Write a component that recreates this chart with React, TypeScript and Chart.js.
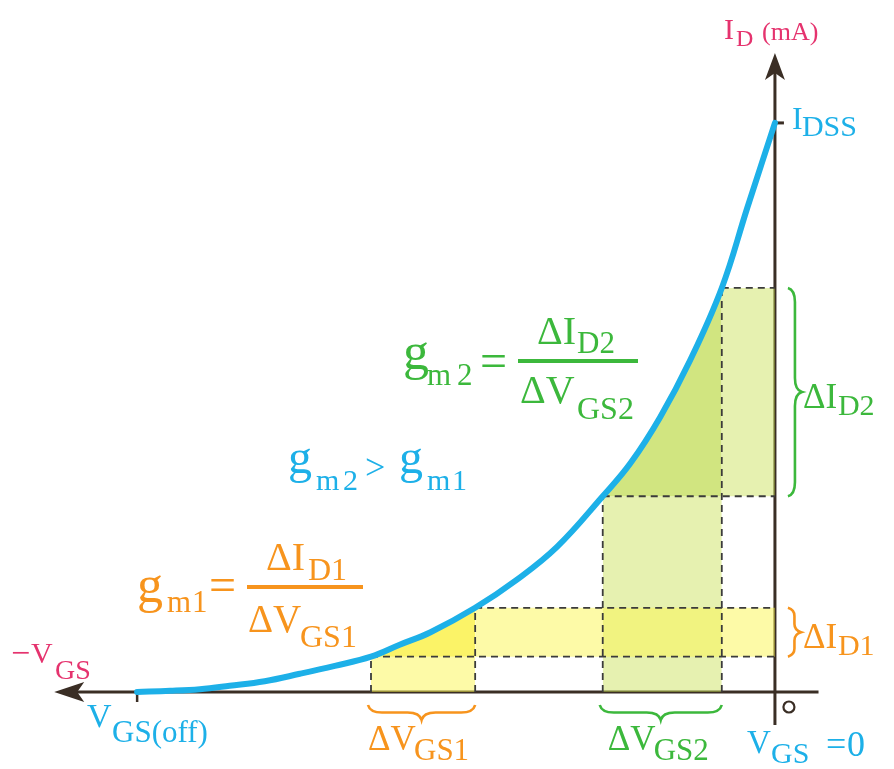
import React, { useEffect, useRef } from 'react';
import { Chart, registerables } from 'chart.js';

Chart.register(...registerables);

// ---- data (VGS in volts, ID in mA) ----
const VGS = [-6, -5.69, -5.41, -5.13, -4.8, -4.47, -4.14, -3.8, -3.53, -3.24, -2.82, -2.43, -2.05, -1.62, -1.36, -1.08, -0.8, -0.5, -0.26, 0];
const ID = [0, 0.02, 0.05, 0.11, 0.19, 0.32, 0.46, 0.62, 0.83, 1.05, 1.48, 1.97, 2.55, 3.44, 4.02, 4.83, 5.82, 7.1, 8.51, 10];
const VGS_OFF = -6;
const IDSS = 10;
const DVGS1 = [-3.8, -2.82];
const DID1 = [0.62, 1.48];
const DVGS2 = [-1.62, -0.5];
const DID2 = [3.44, 7.1];

// visible window of the diagram
const X_MIN = -7.29;
const X_MAX = 1.12;
const Y_MIN = -1.353;
const Y_MAX = 12.16;
// drawn axis extents
const X_AXIS = [-6.78, 0.41];
const Y_AXIS = [-0.58, 11.23];

const BLUE = '#1db0e8';
const MAGENTA = '#e5336e';
const ORANGE = '#f7941d';
const GREEN = '#3cb83c';
const DARK = '#3a2e25';
const FONT = "'Liberation Serif', 'Times New Roman', serif";

const Y_LIGHT = 'rgba(252,245,80,0.5)';
const Y_BRIGHT = 'rgba(250,240,60,0.78)';
const G_LIGHT = 'rgba(200,225,80,0.45)';
const G_MID = 'rgba(185,215,60,0.65)';
const TENSION = 0.4;

function txt(ctx: CanvasRenderingContext2D, s: string, x: number, y: number, size: number, color: string) {
  ctx.font = `${size}px ${FONT}`;
  ctx.fillStyle = color;
  ctx.textAlign = 'left';
  ctx.textBaseline = 'alphabetic';
  ctx.fillText(s, x, y);
  return x + ctx.measureText(s).width;
}

function braceH(ctx: CanvasRenderingContext2D, x1: number, x2: number, y0: number, h: number, color: string) {
  const xm = (x1 + x2) / 2;
  const ym = y0 + h / 2;
  const r = Math.min(14, (x2 - x1) / 6);
  ctx.beginPath();
  ctx.moveTo(x1, y0);
  ctx.quadraticCurveTo(x1 + 2, ym, x1 + r, ym);
  ctx.lineTo(xm - r, ym);
  ctx.quadraticCurveTo(xm - 2, ym, xm, y0 + h);
  ctx.quadraticCurveTo(xm + 2, ym, xm + r, ym);
  ctx.lineTo(x2 - r, ym);
  ctx.quadraticCurveTo(x2 - 2, ym, x2, y0);
  ctx.strokeStyle = color;
  ctx.lineWidth = 2.6;
  ctx.stroke();
}

function braceV(ctx: CanvasRenderingContext2D, y1: number, y2: number, x0: number, w: number, color: string) {
  const ym = (y1 + y2) / 2;
  const xm = x0 + w / 2;
  const r = Math.min(14, (y2 - y1) / 6);
  ctx.beginPath();
  ctx.moveTo(x0, y1);
  ctx.quadraticCurveTo(xm, y1 + 2, xm, y1 + r);
  ctx.lineTo(xm, ym - r);
  ctx.quadraticCurveTo(xm, ym - 2, x0 + w, ym);
  ctx.quadraticCurveTo(xm, ym + 2, xm, ym + r);
  ctx.lineTo(xm, y2 - r);
  ctx.quadraticCurveTo(xm, y2 - 2, x0, y2);
  ctx.strokeStyle = color;
  ctx.lineWidth = 2.6;
  ctx.stroke();
}

const diagramPlugin = {
  id: 'diagram',
  beforeDatasetsDraw(chart: any) {
    const ctx: CanvasRenderingContext2D = chart.ctx;
    const px = (v: number) => chart.scales.x.getPixelForValue(v);
    const py = (v: number) => chart.scales.y.getPixelForValue(v);
    const x0 = px(0), y0 = py(0);
    ctx.save();
    ctx.strokeStyle = DARK;
    ctx.fillStyle = DARK;
    ctx.lineWidth = 3;
    // x axis
    ctx.beginPath();
    ctx.moveTo(px(X_AXIS[1]), y0);
    ctx.lineTo(px(X_AXIS[0]) + 20, y0);
    ctx.stroke();
    const ax = px(X_AXIS[0]);
    ctx.beginPath();
    ctx.moveTo(ax, y0);
    ctx.lineTo(ax + 30, y0 - 10);
    ctx.lineTo(ax + 23, y0);
    ctx.lineTo(ax + 30, y0 + 10);
    ctx.closePath();
    ctx.fill();
    // y axis
    ctx.beginPath();
    ctx.moveTo(x0, py(Y_AXIS[0]));
    ctx.lineTo(x0, py(Y_AXIS[1]) + 20);
    ctx.stroke();
    const ay = py(Y_AXIS[1]);
    ctx.beginPath();
    ctx.moveTo(x0, ay);
    ctx.lineTo(x0 - 10, ay + 27);
    ctx.lineTo(x0, ay + 20);
    ctx.lineTo(x0 + 10, ay + 27);
    ctx.closePath();
    ctx.fill();
    // ticks
    ctx.lineWidth = 2.5;
    ctx.beginPath();
    ctx.moveTo(px(VGS_OFF), y0);
    ctx.lineTo(px(VGS_OFF), y0 + 10);
    ctx.stroke();
    ctx.lineWidth = 3;
    ctx.beginPath();
    ctx.moveTo(x0, py(IDSS));
    ctx.lineTo(x0 + 9, py(IDSS));
    ctx.stroke();
    // origin mark
    ctx.lineWidth = 2.2;
    ctx.beginPath();
    ctx.arc(x0 + 14, y0 + 15, 5.5, 0, Math.PI * 2);
    ctx.stroke();
    ctx.restore();
  },
  afterDatasetsDraw(chart: any) {
    const ctx: CanvasRenderingContext2D = chart.ctx;
    const px = (v: number) => chart.scales.x.getPixelForValue(v);
    const py = (v: number) => chart.scales.y.getPixelForValue(v);
    const x0 = px(0), y0 = py(0);
    ctx.save();
    // braces
    braceH(ctx, px(DVGS1[0]) - 3, px(DVGS1[1]), y0 + 13, 15, ORANGE);
    braceH(ctx, px(DVGS2[0]) - 3, px(DVGS2[1]), y0 + 13, 15, GREEN);
    braceV(ctx, py(DID2[1]), py(DID2[0]), x0 + 13, 14, GREEN);
    braceV(ctx, py(DID1[1]), py(DID1[0]), x0 + 13, 13, ORANGE);

    // axis labels
    txt(ctx, 'I', 724, 39, 30, MAGENTA);
    txt(ctx, 'D', 736, 46, 24, MAGENTA);
    txt(ctx, '(mA)', 762, 40, 26, MAGENTA);
    txt(ctx, '\u2212', 11, 664, 34, MAGENTA);
    txt(ctx, 'V', 31, 663, 30, MAGENTA);
    txt(ctx, 'GS', 55, 679, 28, MAGENTA);

    txt(ctx, 'I', x0 + 17, py(IDSS) + 6, 32, BLUE);
    txt(ctx, 'DSS', x0 + 27, py(IDSS) + 13, 30, BLUE);
    txt(ctx, 'V', 87, 727, 34, BLUE);
    txt(ctx, 'GS(off)', 112, 742, 31, BLUE);
    txt(ctx, 'V', 747, 753, 33, BLUE);
    txt(ctx, 'GS', 771, 763, 30, BLUE);
    txt(ctx, '=', 826, 756, 36, BLUE);
    txt(ctx, '0', 847, 756, 36, BLUE);

    // gm2 > gm1
    txt(ctx, 'g', 288, 473, 48, BLUE);
    txt(ctx, 'm', 316, 490, 30, BLUE);
    txt(ctx, '2', 343, 490, 30, BLUE);
    txt(ctx, '>', 365, 479, 36, BLUE);
    txt(ctx, 'g', 399, 473, 48, BLUE);
    txt(ctx, 'm', 427, 490, 30, BLUE);
    txt(ctx, '1', 452, 490, 30, BLUE);

    // gm1 formula (orange)
    txt(ctx, 'g', 137, 602, 52, ORANGE);
    txt(ctx, 'm', 167, 612, 31, ORANGE);
    txt(ctx, '1', 192, 612, 31, ORANGE);
    txt(ctx, '=', 209, 601, 48, ORANGE);
    ctx.fillStyle = ORANGE;
    ctx.fillRect(247, 585, 116, 4);
    txt(ctx, '\u0394I', 266, 570, 40, ORANGE);
    txt(ctx, 'D1', 308, 580, 32, ORANGE);
    txt(ctx, '\u0394V', 248, 632, 39, ORANGE);
    txt(ctx, 'GS1', 300, 647, 32, ORANGE);

    // gm2 formula (green)
    txt(ctx, 'g', 403, 369, 52, GREEN);
    txt(ctx, 'm', 427, 385, 31, GREEN);
    txt(ctx, '2', 457, 385, 31, GREEN);
    txt(ctx, '=', 480, 377, 48, GREEN);
    ctx.fillStyle = GREEN;
    ctx.fillRect(518, 359, 120, 4);
    txt(ctx, '\u0394I', 537, 344, 40, GREEN);
    txt(ctx, 'D2', 577, 353, 31, GREEN);
    txt(ctx, '\u0394V', 520, 403, 40, GREEN);
    txt(ctx, 'GS2', 577, 419, 32, GREEN);

    // delta labels
    txt(ctx, '\u0394V', px(DVGS1[0]) - 3, y0 + 58, 35, ORANGE);
    txt(ctx, 'GS1', px(DVGS1[0]) + 43, y0 + 68, 31, ORANGE);
    txt(ctx, '\u0394V', px(DVGS2[0]) + 5, y0 + 58, 35, GREEN);
    txt(ctx, 'GS2', px(DVGS2[0]) + 51, y0 + 68, 31, GREEN);
    const m2 = py((DID2[0] + DID2[1]) / 2);
    txt(ctx, '\u0394I', x0 + 28, m2 + 16, 35, GREEN);
    txt(ctx, 'D2', x0 + 63, m2 + 23, 30, GREEN);
    const m1 = py((DID1[0] + DID1[1]) / 2);
    txt(ctx, '\u0394I', x0 + 28, m1 + 16, 35, ORANGE);
    txt(ctx, 'D1', x0 + 63, m1 + 23, 30, ORANGE);
    ctx.restore();
  },
};

export default function App() {
  const ref = useRef<HTMLCanvasElement | null>(null);
  useEffect(() => {
    if (!ref.current) return;
    const curve = VGS.map((v, i) => ({ x: v, y: ID[i] }));
    // sub-curve with one neighbouring point on each side so the spline matches the main curve
    const sub = (a: number, b: number) => curve.filter((p) => p.x >= a - 1e-9 && p.x <= b + 1e-9);
    const fillDs = (data: any[], to: number, color: string, smooth = false) => ({
      data,
      fill: { value: to },
      backgroundColor: color,
      borderColor: 'rgba(0,0,0,0)',
      borderWidth: 0,
      pointRadius: 0,
      tension: smooth ? TENSION : 0,
      order: 3,
    });
    const dashed = (data: any[]) => ({
      data,
      fill: false,
      borderColor: '#3b3b3b',
      borderWidth: 1.8,
      borderDash: [7, 5],
      pointRadius: 0,
      order: 1,
    });
    const datasets: any[] = [
      fillDs([{ x: DVGS1[0], y: DID1[0] }, { x: DVGS1[1], y: DID1[0] }], 0, Y_LIGHT),
      fillDs(sub(DVGS1[0], DVGS1[1]), DID1[0], Y_BRIGHT, true),
      fillDs([{ x: DVGS1[1], y: DID1[1] }, { x: 0, y: DID1[1] }], DID1[0], Y_LIGHT),
      fillDs([{ x: DVGS2[0], y: DID2[0] }, { x: DVGS2[1], y: DID2[0] }], 0, G_LIGHT),
      fillDs(sub(DVGS2[0], DVGS2[1]), DID2[0], G_MID, true),
      fillDs([{ x: DVGS2[1], y: DID2[1] }, { x: 0, y: DID2[1] }], DID2[0], G_LIGHT),
      dashed([{ x: DVGS1[0], y: DID1[0] }, { x: 0, y: DID1[0] }]),
      dashed([{ x: DVGS1[1], y: DID1[1] }, { x: 0, y: DID1[1] }]),
      dashed([{ x: DVGS1[0], y: 0 }, { x: DVGS1[0], y: DID1[0] }]),
      dashed([{ x: DVGS1[1], y: 0 }, { x: DVGS1[1], y: DID1[1] }]),
      dashed([{ x: DVGS2[0], y: DID2[0] }, { x: 0, y: DID2[0] }]),
      dashed([{ x: DVGS2[1], y: DID2[1] }, { x: 0, y: DID2[1] }]),
      dashed([{ x: DVGS2[0], y: 0 }, { x: DVGS2[0], y: DID2[0] }]),
      dashed([{ x: DVGS2[1], y: 0 }, { x: DVGS2[1], y: DID2[1] }]),
      {
        label: 'ID',
        data: curve,
        fill: false,
        borderColor: BLUE,
        borderWidth: 6,
        borderCapStyle: 'round',
        borderJoinStyle: 'round',
        pointRadius: 0,
        tension: TENSION,
        order: 0,
      },
    ];
    const chart = new Chart(ref.current, {
      type: 'line',
      data: { datasets },
      options: {
        animation: false,
        responsive: false,
        devicePixelRatio: 1,
        layout: { padding: 0 },
        plugins: { legend: { display: false }, tooltip: { enabled: false }, title: { display: false } },
        scales: {
          x: { type: 'linear', min: X_MIN, max: X_MAX, display: false },
          y: { type: 'linear', min: Y_MIN, max: Y_MAX, display: false },
        },
        events: [],
      },
      plugins: [diagramPlugin],
    } as any);
    return () => chart.destroy();
  }, []);
  return (
    <div style={{ position: 'fixed', left: 0, top: 0, width: 894, height: 769, background: '#fff' }}>
      <canvas ref={ref} width={894} height={769} />
    </div>
  );
}
